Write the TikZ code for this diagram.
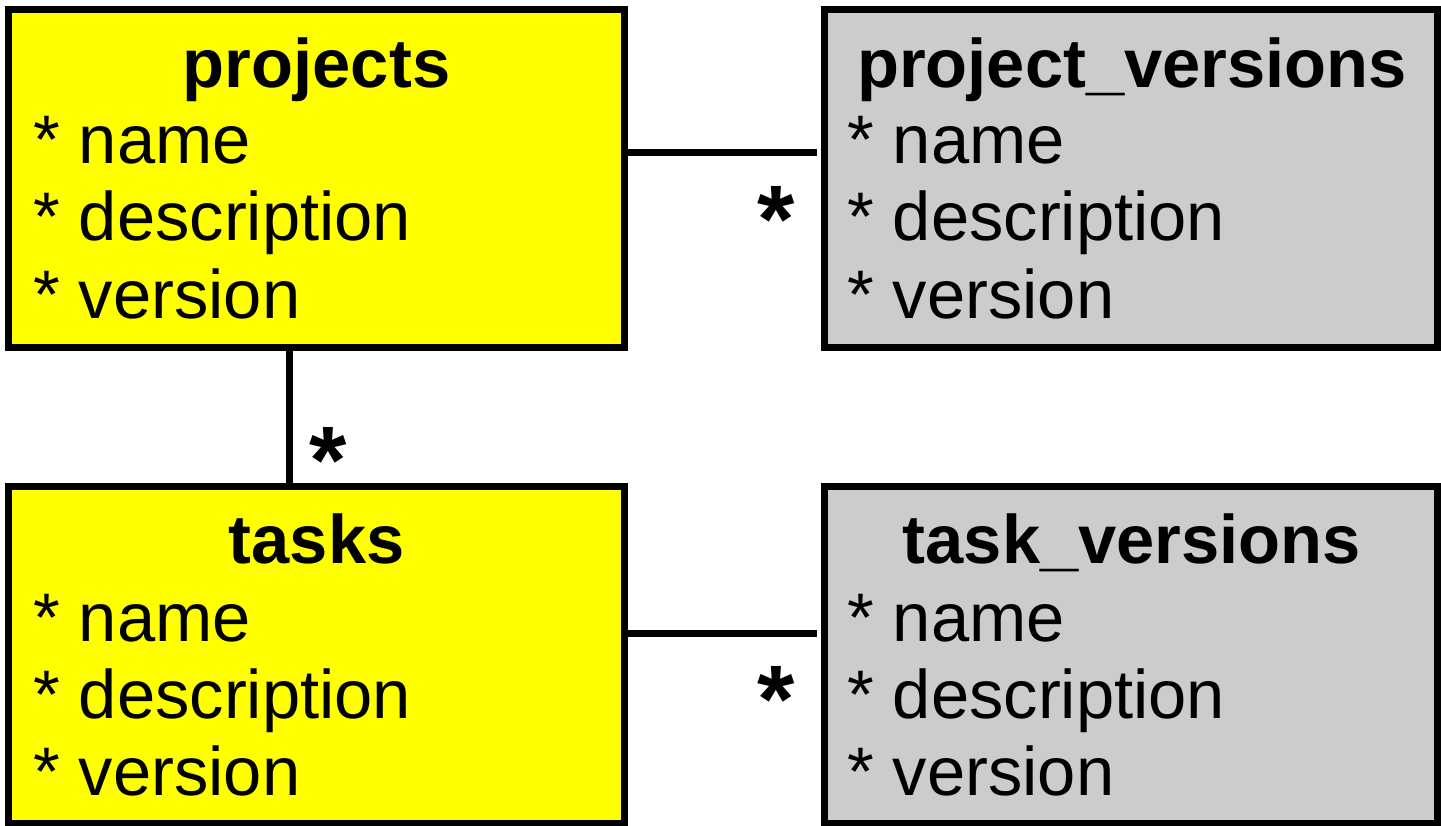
\documentclass[tikz,border=0pt]{standalone}
\usepackage{fontspec}
\setmainfont{Liberation Sans}

\def\fsize{\fontsize{68.7}{77}\selectfont}
\definecolor{boxyellow}{RGB}{255,255,0}
\definecolor{boxgray}{RGB}{204,204,204}

\begin{document}
\begin{tikzpicture}[x=1pt, y=-1pt,
    every node/.style={inner sep=0pt, font=\fsize},
    entity/.style={draw, line width=7pt, minimum width=615.8pt, minimum height=337.3pt},
    head/.style={anchor=base, font=\fsize\bfseries},
    field/.style={anchor=base west},
    link/.style={line width=7pt},
    mult/.style={anchor=north, font=\fontsize{96}{96}\selectfont\bfseries}]
      \useasboundingbox (0,0) rectangle (1441,826);
      % tables
      \node[entity, fill=boxyellow] (projects) at (316.6, 178.4) {};
      \node[entity, fill=boxgray, minimum width=613pt] (projectversions) at (1131, 178.4) {};
      \node[entity, fill=boxyellow] (tasks) at (316.6, 654.8) {};
      \node[entity, fill=boxgray, minimum width=613pt] (taskversions) at (1131, 654.8) {};
      % titles
      \node[head] (projects-title) at (316.6, 87.3) {projects};
      \node[head] (projectversions-title) at (1132, 87.3) {project\_versions};
      \node[head] (tasks-title) at (316.6, 563.3) {tasks};
      \node[head] (taskversions-title) at (1132, 563.3) {task\_versions};
      % fields
      \node[field] (projects-name) at (33, 164) {* name};
      \node[field] (projects-desc) at (33, 240.7) {* description};
      \node[field] (projects-ver) at (33, 318.3) {* version};
      \node[field] (projectversions-name) at (847, 164) {* name};
      \node[field] (projectversions-desc) at (847, 240.7) {* description};
      \node[field] (projectversions-ver) at (847, 318.3) {* version};
      \node[field] (tasks-name) at (33, 641.7) {* name};
      \node[field] (tasks-desc) at (33, 718.3) {* description};
      \node[field] (tasks-ver) at (33, 795) {* version};
      \node[field] (taskversions-name) at (847, 641.7) {* name};
      \node[field] (taskversions-desc) at (847, 718.3) {* description};
      \node[field] (taskversions-ver) at (847, 795) {* version};
      % links
      \draw[link, shorten >=4.3pt] ([yshift=25.4pt]projects.east) -- ([yshift=25.4pt]projectversions.west);
      \draw[link] ([xshift=-27.6pt]projects.south) -- ([xshift=-27.6pt]tasks.north);
      \draw[link, shorten >=4.3pt] ([yshift=21.8pt]tasks.east) -- ([yshift=21.8pt]taskversions.west);
      \node[mult] (projectversions-mult) at (776.5, 186.7) {*};
      \node[mult] (tasks-mult) at (328.3, 427) {*};
      \node[mult] (taskversions-mult) at (776.5, 666.7) {*};
\end{tikzpicture}
\end{document}
